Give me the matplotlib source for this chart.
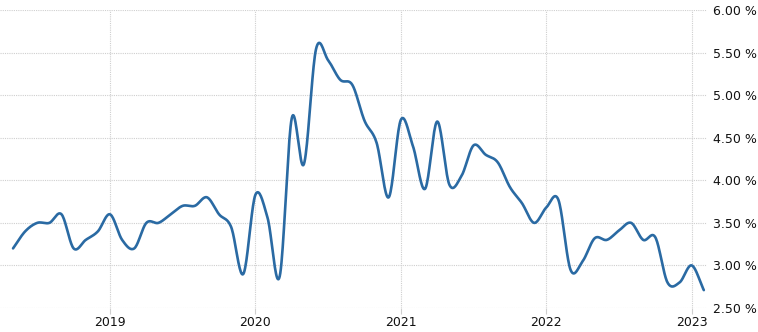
import numpy as np
import pandas as pd
import matplotlib
matplotlib.use("Agg")
import matplotlib.pyplot as plt
from matplotlib.ticker import FixedLocator, FuncFormatter

# ---- data (monthly, May 2018 .. Feb 2023) ----
start_month = "2018-05"
values = [
    3.20, 3.40, 3.50, 3.50, 3.60, 3.20, 3.30, 3.40,          # 2018-05 .. 2018-12
    3.60, 3.30, 3.20, 3.50, 3.50, 3.60, 3.70, 3.70, 3.80, 3.60, 3.45, 2.90,  # 2019
    3.83, 3.56, 2.87, 4.73, 4.19, 5.54, 5.41, 5.18, 5.12, 4.70, 4.44, 3.80,  # 2020
    4.71, 4.40, 3.90, 4.69, 3.95, 4.05, 4.41, 4.30, 4.21, 3.92, 3.73, 3.50,  # 2021
    3.68, 3.77, 2.95, 3.05, 3.32, 3.30, 3.41, 3.50, 3.30, 3.33, 2.80, 2.80,  # 2022
    3.00, 2.71,                                                # 2023-01 .. 2023-02
]
year_labels = ["2019", "2020", "2021", "2022", "2023"]
y_ticks = [2.5, 3.0, 3.5, 4.0, 4.5, 5.0, 5.5, 6.0]

dates = pd.date_range(start_month, periods=len(values), freq="MS")
idx = np.arange(len(values), dtype=float)
vals = np.array(values)

# Catmull-Rom style cubic Hermite smoothing
def smooth(x, y, n=20):
    m = np.empty_like(y)
    m[1:-1] = (y[2:] - y[:-2]) / (x[2:] - x[:-2])
    m[0] = (y[1] - y[0]) / (x[1] - x[0])
    m[-1] = (y[-1] - y[-2]) / (x[-1] - x[-2])
    xs, ys = [], []
    for i in range(len(x) - 1):
        h = x[i + 1] - x[i]
        t = np.linspace(0, 1, n, endpoint=False)
        h00 = 2 * t**3 - 3 * t**2 + 1
        h10 = t**3 - 2 * t**2 + t
        h01 = -2 * t**3 + 3 * t**2
        h11 = t**3 - t**2
        xs.append(x[i] + t * h)
        ys.append(h00 * y[i] + h10 * h * m[i] + h01 * y[i + 1] + h11 * h * m[i + 1])
    xs.append([x[-1]])
    ys.append([y[-1]])
    return np.concatenate(xs), np.concatenate(ys)

sx, sy = smooth(idx, vals)

year_pos = [idx[(dates.year == int(y)) & (dates.month == 1)][0] for y in year_labels]

W, H = 758, 332
fig = plt.figure(figsize=(W / 100, H / 100), dpi=100)
left_px, right_px, top_px, bot_px = 0, 707, 10, 308
ax = fig.add_axes([left_px / W, (H - bot_px) / H, (right_px - left_px) / W, (bot_px - top_px) / H])

ax.plot(sx, sy, color="#2a6aa3", lw=1.9, solid_capstyle="round", zorder=3)

px_per_month = (691.7 - 110.0) / 48.0
x0 = year_pos[0] - (110.0 - left_px) / px_per_month
x1 = year_pos[0] + (right_px - 110.0) / px_per_month
ax.set_xlim(x0, x1)
ax.set_ylim(2.5, 6.0)

ax.xaxis.set_major_locator(FixedLocator(year_pos))
ax.set_xticklabels(year_labels)
ax.yaxis.set_major_locator(FixedLocator(y_ticks))
ax.yaxis.set_major_formatter(FuncFormatter(lambda v, p: f"{v:.2f} %"))
ax.yaxis.tick_right()

ax.grid(True, color="#cfcfcf", linestyle=(0, (1, 1)), linewidth=0.8, zorder=0)
for s in ax.spines.values():
    s.set_visible(False)
ax.tick_params(axis="x", length=4, color="#cfcfcf", width=0.8, pad=2,
               labelsize=9, labelcolor="#111111")
ax.tick_params(axis="y", length=0, pad=4, labelsize=9, labelcolor="#111111")
ax.set_facecolor("white")
fig.patch.set_facecolor("white")

fig.savefig("out.png", dpi=100, facecolor="white")
